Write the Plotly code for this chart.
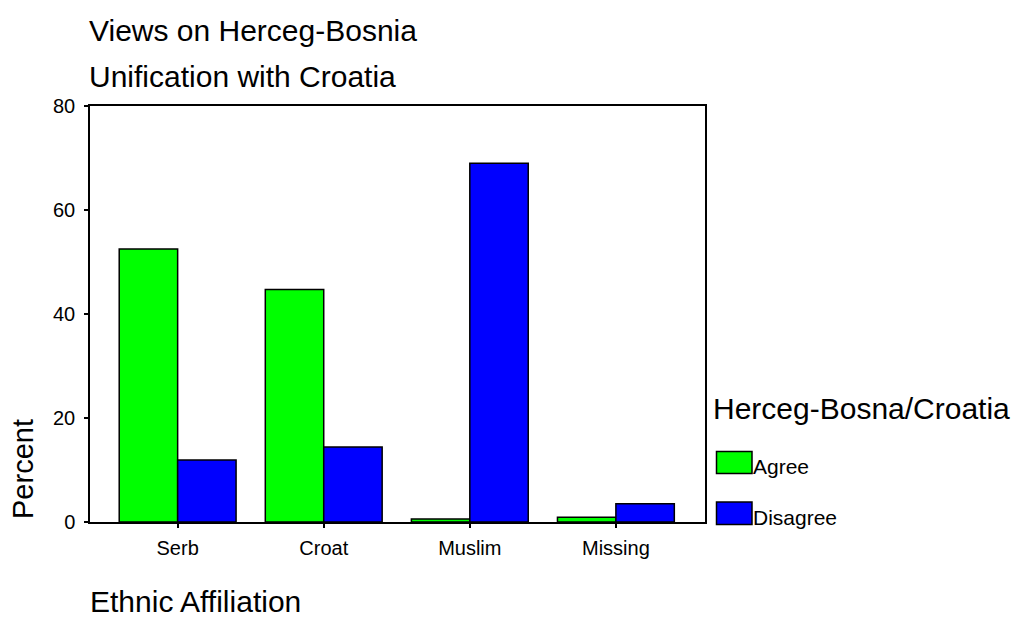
import plotly.graph_objects as go

# data
categories = ["Serb", "Croat", "Muslim", "Missing"]
agree = [52.5, 44.7, 0.6, 0.9]
disagree = [11.9, 14.4, 69.0, 3.5]
y_ticks = [0, 20, 40, 60, 80]

FONT = "Liberation Sans, Arial, sans-serif"
GREEN = "#00FF00"
BLUE = "#0000FF"

# page body has an 8px margin, so the figure is shrunk and everything is
# measured in screen pixels of the 1022x621 window
OFF = 8
W, H = 1022 - OFF, 621 - OFF
# plot area in screen pixels
L, R, T, B = 90, 705, 106, 522


def px(x):
    return (x - L) / (R - L)


def py(y):
    return (B - y) / (B - T)


fig = go.Figure()
fig.add_trace(go.Bar(x=categories, y=agree, name="Agree",
                     marker=dict(color=GREEN, line=dict(color="black", width=1.5))))
fig.add_trace(go.Bar(x=categories, y=disagree, name="Disagree",
                     marker=dict(color=BLUE, line=dict(color="black", width=1.5))))

fig.update_layout(
    width=W, height=H,
    margin=dict(l=L - OFF, r=W + OFF - R, t=T - OFF, b=H + OFF - B),
    paper_bgcolor="white", plot_bgcolor="white",
    font=dict(family=FONT, color="black", size=20),
    barmode="group", bargap=0.2, bargroupgap=0,
    showlegend=False,
)

fig.update_xaxes(
    range=[-0.6, 3.61], showline=True, mirror=True, linecolor="black", linewidth=1.5,
    ticks="outside", ticklen=4, tickwidth=2, tickcolor="black",
    tickfont=dict(size=20), showgrid=False, ticklabelstandoff=3,
)
fig.update_yaxes(
    range=[0, 80], tickvals=y_ticks, showline=True, mirror=True, linecolor="black",
    linewidth=1.5, ticks="outside", ticklen=4, tickwidth=2, tickcolor="black",
    tickfont=dict(size=20), showgrid=False, zeroline=False, ticklabelstandoff=5,
)

big = dict(family=FONT, size=30, color="black")
texts = [
    ("Views on Herceg-Bosnia", px(87), py(30)),
    ("Unification with Croatia", px(87), py(77)),
    ("Ethnic Affiliation", px(88), py(601)),
    ("Herceg-Bosna/Croatia", px(711), py(408)),
]
for txt, x, y in texts:
    fig.add_annotation(text=txt, x=x, y=y, xref="paper", yref="paper",
                       xanchor="left", yanchor="middle", showarrow=False, font=big)
fig.add_annotation(text="Percent", x=px(23), y=py(469), xref="paper", yref="paper",
                   xanchor="center", yanchor="middle", textangle=-90,
                   showarrow=False, font=dict(family=FONT, size=29, color="black"))

# legend drawn by hand to get the large swatches
legend_rows = [("Agree", GREEN, 451.5, 473.5), ("Disagree", BLUE, 502, 524.5)]
for name, color, y0, y1 in legend_rows:
    fig.add_shape(type="rect", xref="paper", yref="paper",
                  x0=px(716.5), x1=px(752), y0=py(y1), y1=py(y0),
                  fillcolor=color, line=dict(color="black", width=1.5))
    fig.add_annotation(text=name, x=px(751), y=py((y0 + y1) / 2 + 4),
                       xref="paper", yref="paper", xanchor="left", yanchor="middle",
                       showarrow=False, font=dict(family=FONT, size=21, color="black"))

fig.write_html("out.html")
